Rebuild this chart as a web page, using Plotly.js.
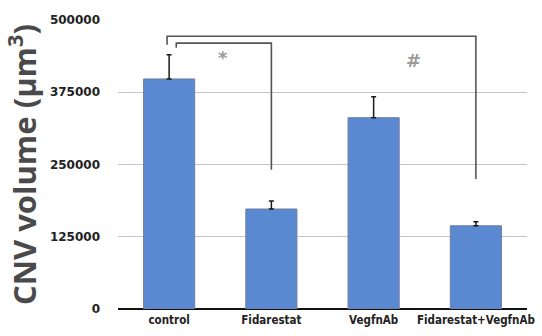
<!DOCTYPE html>
<html>
<head>
<meta charset="utf-8">
<script src="https://cdn.plot.ly/plotly-3.0.1.min.js"></script>
<style>
  html, body { margin: 0; padding: 0; background: #fff; }
  #chart { width: 542px; height: 336px; }
</style>
</head>
<body>
<div id="chart"></div>
<script>
// Groups and mean CNV volumes (µm³) with their upper error values
const groups = ['control', 'Fidarestat', 'VegfnAb', 'Fidarestat+VegfnAb'];
const cnvVolume = [398000, 173000, 331000, 144000];
const cnvError = [42000, 14000, 36000, 7000];
const yTicks = [0, 125000, 250000, 375000, 500000];

// Significance comparisons: [from group index, to group index], marker and bracket levels
const comparisons = [[0, 3], [0, 1]];
const compSymbols = ['#', '*'];
const compTop = [472000, 460000];
const compLeftFoot = [457000, 452000];
const compRightFoot = [225000, 241000];
const compLeftOffset = [-0.02, 0.07];
const compLabelX = [2.39, 0.53];
const compLabelY = [430000, 435000];

const trace = {
  type: 'bar',
  x: groups,
  y: cnvVolume,
  width: 0.5,
  marker: { color: '#5a89d2', line: { color: '#6f7f9f', width: 1 } },
  error_y: {
    type: 'data', symmetric: false, array: cnvError,
    arrayminus: cnvError.map(() => 0),
    color: '#1a1a1a', thickness: 1.5, width: 2.5
  },
  hoverinfo: 'none'
};

const shapes = [];
const annotations = [];
comparisons.forEach((pair, i) => {
  const x0 = pair[0] + compLeftOffset[i];
  const x1 = pair[1];
  shapes.push({ type: 'path', xref: 'x', yref: 'y',
    path: `M ${x0},${compLeftFoot[i]} L ${x0},${compTop[i]} L ${x1},${compTop[i]} L ${x1},${compRightFoot[i]}`,
    line: { color: '#555', width: 1.6 } });
  annotations.push({
    x: compLabelX[i], y: compLabelY[i],
    xref: 'x', yref: 'y', text: compSymbols[i], showarrow: false,
    font: { family: 'DejaVu Sans', size: 18, color: '#9a9a9a', weight: 'bold' }
  });
});

const layout = {
  width: 542, height: 336,
  margin: { l: 118, r: 15, t: 20, b: 27 },
  paper_bgcolor: '#fff', plot_bgcolor: '#fff',
  showlegend: false,
  bargap: 0.5,
  xaxis: {
    range: [-0.5, 3.5],
    showgrid: false, zeroline: false,
    showline: false, ticks: '',
    tickfont: { family: 'DejaVu Sans Condensed', size: 11.5, color: '#222', weight: 'bold' },
    ticklabelstandoff: 2
  },
  yaxis: {
    range: [0, 500000],
    tickvals: yTicks,
    ticktext: yTicks.map(v => String(v)),
    showgrid: true, gridcolor: '#c4c4c4', gridwidth: 1,
    zeroline: true, zerolinecolor: '#111', zerolinewidth: 2,
    showline: false, ticks: '',
    ticklabelstandoff: 17,
    tickfont: { family: 'DejaVu Sans', size: 12, color: '#222', weight: 'bold' },
    title: {
      text: 'CNV volume (µm<sup>3</sup>)',
      font: { family: 'Open Sans', size: 31, color: '#4a4a4a', weight: 'bold' },
      standoff: 8
    }
  },
  shapes: shapes,
  annotations: annotations
};

Plotly.newPlot('chart', [trace], layout, { displayModeBar: false, staticPlot: true });
</script>
</body>
</html>
